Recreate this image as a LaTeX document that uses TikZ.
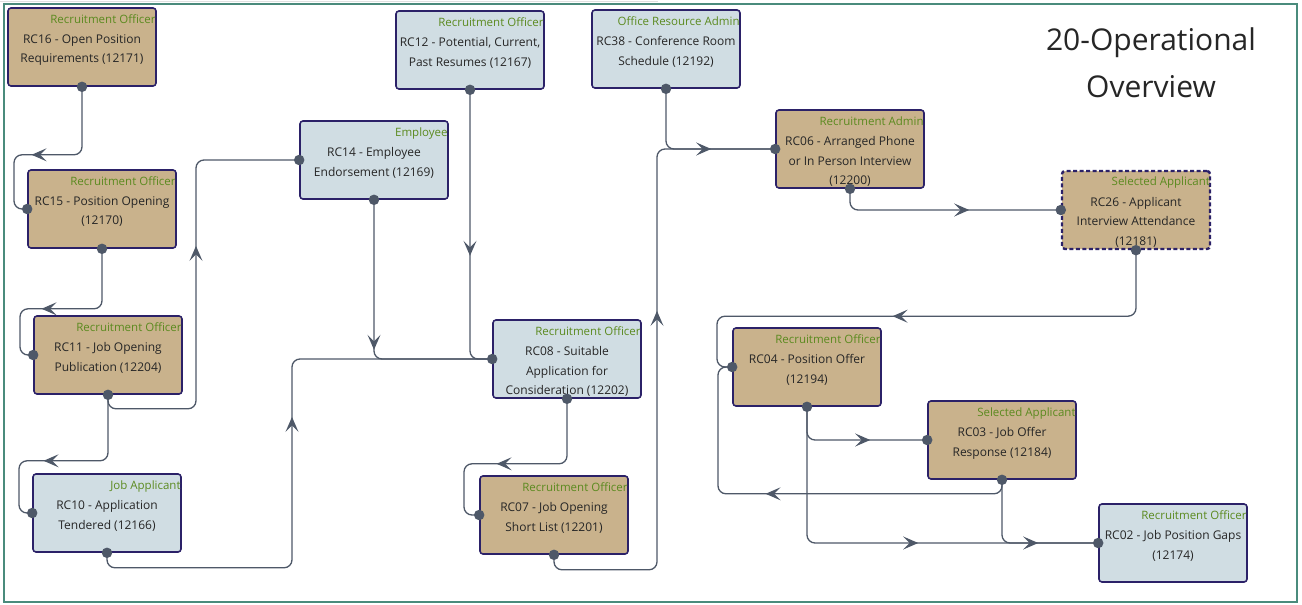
\documentclass[tikz,border=0pt]{standalone}
\usepackage{fontspec}
\setmainfont{Open Sans}
\usetikzlibrary{arrows.meta,decorations.markings}
\definecolor{tanc}{HTML}{C9B28C}
\definecolor{bluec}{HTML}{D0DDE3}
\definecolor{boxline}{HTML}{2B2168}
\definecolor{rolec}{HTML}{5B8A1F}
\definecolor{linec}{HTML}{4E5868}
\definecolor{framec}{HTML}{4A8B7C}
\tikzset{act/.style = {draw=boxline, line width=1.6pt, rounded corners=3pt, minimum width=148pt, minimum height=78pt, inner sep=0}}
\tikzset{role/.style = {anchor=north east, inner sep=0, xshift=-1pt, yshift=-7pt, text=rolec, font=\fontsize{11.5}{13}\selectfont}}
\tikzset{body/.style = {anchor=north, inner sep=0, yshift=-27pt, align=center, text=black!85, font=\fontsize{12}{19.5}\selectfont}}
\tikzset{link/.style = {linec, line width=1.3pt, rounded corners=8pt}}
\tikzset{midarrow/.style = {decoration={markings, mark=at position #1 with {\arrow{Stealth[length=15pt,width=13pt,inset=6.5pt]}}}, postaction={decorate}}}
\tikzset{pin/.style = {fill=linec, circle, inner sep=0, minimum size=10.5pt}}

\begin{document}
\begin{tikzpicture}[x=1pt,y=-1pt]
\useasboundingbox (0,0) rectangle (1302,605);
\draw[black!12, line width=1.5pt] (0,1.5) -- (658,1.5);
\draw[framec, line width=1.5pt] (4,4) rectangle (1297,602);
\node[align=center, text=black!85, font=\fontsize{30}{47}\selectfont] (ttl) at (1151,63) {20-Operational\\Overview};

\node[act, fill=tanc, label={[role]north east:Recruitment Officer}, label={[body]north:{RC16 - Open Position\\Requirements (12171)}}] (rc16) at (82,47) {};
\node[act, fill=tanc, label={[role]north east:Recruitment Officer}, label={[body]north:{RC15 - Position Opening\\(12170)}}] (rc15) at (102,209) {};
\node[act, fill=tanc, label={[role]north east:Recruitment Officer}, label={[body]north:{RC11 - Job Opening\\Publication (12204)}}] (rc11) at (108,355) {};
\node[act, fill=bluec, label={[role]north east:Job Applicant}, label={[body]north:{RC10 - Application\\Tendered (12166)}}] (rc10) at (107,513) {};
\node[act, fill=bluec, label={[role]north east:Employee}, label={[body]north:{RC14 - Employee\\Endorsement (12169)}}] (rc14) at (374,160) {};
\node[act, fill=bluec, label={[role]north east:Recruitment Officer}, label={[body]north:{RC12 - Potential, Current,\\Past Resumes (12167)}}] (rc12) at (470,50) {};
\node[act, fill=bluec, label={[role]north east:Office Resource Admin}, label={[body]north:{RC38 - Conference Room\\Schedule (12192)}}] (rc38) at (666,49) {};
\node[act, fill=bluec, label={[role]north east:Recruitment Officer}, label={[body]north:{RC08 - Suitable\\Application for\\Consideration (12202)}}] (rc08) at (567,359) {};
\node[act, fill=tanc, label={[role]north east:Recruitment Officer}, label={[body]north:{RC07 - Job Opening\\Short List (12201)}}] (rc07) at (554,515) {};
\node[act, fill=tanc, label={[role]north east:Recruitment Admin}, label={[body]north:{RC06 - Arranged Phone\\or In Person Interview\\(12200)}}] (rc06) at (850,149) {};
\node[act, fill=tanc, dash pattern=on 4pt off 2.5pt, line width=2.4pt, label={[role]north east:Selected Applicant}, label={[body]north:{RC26 - Applicant\\Interview Attendance\\(12181)}}] (rc26) at (1136,210) {};
\node[act, fill=tanc, label={[role]north east:Recruitment Officer}, label={[body]north:{RC04 - Position Offer\\(12194)}}] (rc04) at (807,367) {};
\node[act, fill=tanc, label={[role]north east:Selected Applicant}, label={[body]north:{RC03 - Job Offer\\Response (12184)}}] (rc03) at (1002,440) {};
\node[act, fill=bluec, label={[role]north east:Recruitment Officer}, label={[body]north:{RC02 - Job Position Gaps\\(12174)}}] (rc02) at (1173,543) {};

\draw[link, midarrow=115pt] (rc16.south) -- ++(0,68) -- ++(-68,0) |- (rc15.west);
\draw[link, midarrow=117pt] (rc15.south) -- ++(0,60) -- ++(-82,0) |- (rc11.west);
\draw[link, midarrow=127pt] (rc11.south) -- ++(0,66) -- ++(-89,0) |- (rc10.west);
\draw[link, midarrow=258pt] (rc11.south) -- ++(0,14) -- ++(88,0) |- (rc14.west);
\draw[link, midarrow=344pt] (rc10.south) -- ++(0,15) -- ++(185,0) |- (rc08.west);
\draw[link, midarrow=150pt] (rc14.south) |- (rc08.west);
\draw[link, midarrow=166pt] (rc12.south) |- (rc08.west);
\draw[link, midarrow=132pt] (rc08.south) -- ++(0,65) -- ++(-103,0) |- (rc07.west);
\draw[link, midarrow=370pt] (rc07.south) -- ++(0,15) -- ++(103,0) |- (rc06.west);
\draw[link, midarrow=102pt] (rc38.south) |- (rc06.west);
\draw[link, midarrow=137pt] (rc06.south) |- (rc26.west);
\draw[link, midarrow=306pt] (rc26.south) -- ++(0,66) -- ++(-419,0) |- (rc04.west);
\draw[link, midarrow=93pt] (rc04.south) |- (rc03.west);
\draw[link, midarrow=247pt] (rc03.south) -- ++(0,14) -- ++(-284,0) |- (rc04.west);
\draw[link, midarrow=244pt] (rc04.south) |- (rc02.west);
\draw[link, midarrow=96pt] (rc03.south) |- (rc02.west);

\foreach \p in {rc16.south, rc15.west, rc15.south, rc11.west, rc11.south, rc10.west, rc10.south, rc14.west, rc14.south, rc12.south, rc38.south, rc08.west, rc08.south, rc07.west, rc07.south, rc06.west, rc06.south, rc26.west, rc26.south, rc04.west, rc04.south, rc03.west, rc03.south, rc02.west}
  \node[pin] at (\p) {};
\end{tikzpicture}
\end{document}
